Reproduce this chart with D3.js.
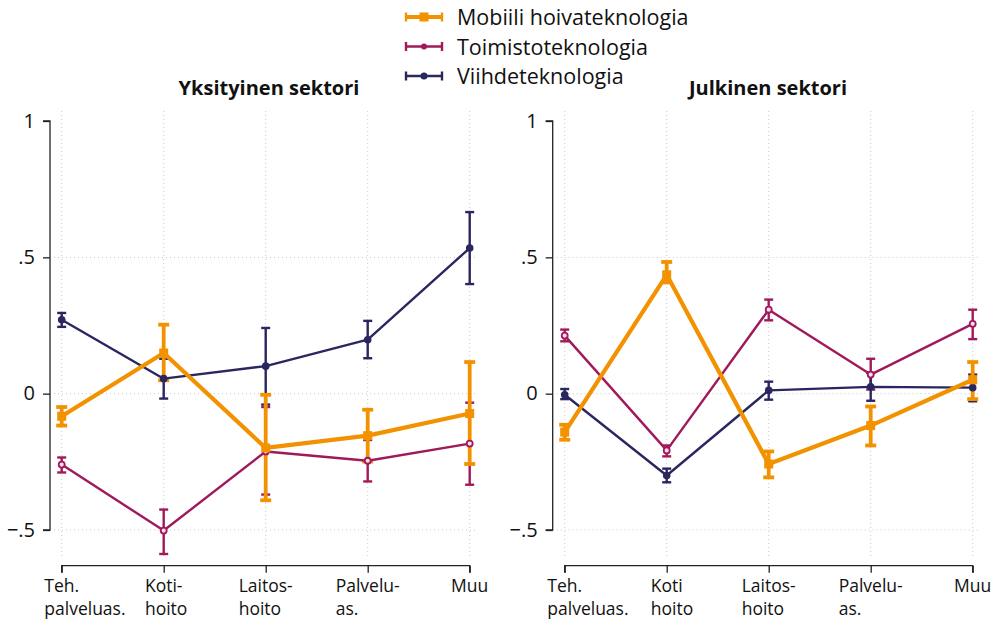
<!DOCTYPE html>
<html><head><meta charset="utf-8">
<script src="https://cdn.jsdelivr.net/npm/d3@7"></script>
<style>body{margin:0;background:#fff}svg{display:block}text{font-family:"Open Sans",sans-serif}</style>
</head><body>
<svg id="c" width="1006" height="619"></svg>
<script>
const categories = ["Teh.|palveluas.", "Koti-|hoito", "Laitos-|hoito", "Palvelu-|as.", "Muu"];
const categoriesRight = ["Teh.|palveluas.", "Koti|hoito", "Laitos-|hoito", "Palvelu-|as.", "Muu"];
const yTicks = [1, 0.5, 0, -0.5];
const yTickLabels = ["1", ".5", "0", "\u2212.5"];
const seriesNames = ["Mobiili hoivateknologia", "Toimistoteknologia", "Viihdeteknologia"];
const panelTitles = ["Yksityinen sektori", "Julkinen sektori"];

// Yksityinen sektori: estimate, lower, upper
const privMobiili   = [-0.083, 0.149, -0.199, -0.154, -0.073];
const privMobiiliLo = [-0.117, 0.049, -0.391, -0.249, -0.258];
const privMobiiliHi = [-0.049, 0.253, -0.004, -0.059, 0.116];
const privToimisto   = [-0.260, -0.502, -0.212, -0.246, -0.183];
const privToimistoLo = [-0.289, -0.588, -0.370, -0.322, -0.334];
const privToimistoHi = [-0.234, -0.425, -0.049, -0.170, -0.033];
const privViihde   = [0.271, 0.055, 0.101, 0.198, 0.534];
const privViihdeLo = [0.245, -0.018, -0.040, 0.130, 0.402];
const privViihdeHi = [0.296, 0.128, 0.241, 0.267, 0.666];

// Julkinen sektori
const pubMobiili   = [-0.141, 0.436, -0.258, -0.117, 0.051];
const pubMobiiliLo = [-0.169, 0.408, -0.307, -0.190, -0.020];
const pubMobiiliHi = [-0.114, 0.483, -0.212, -0.047, 0.116];
const pubToimisto   = [0.213, -0.208, 0.308, 0.070, 0.256];
const pubToimistoLo = [0.192, -0.230, 0.269, 0.015, 0.200];
const pubToimistoHi = [0.235, -0.190, 0.345, 0.128, 0.308];
const pubViihde   = [-0.004, -0.300, 0.012, 0.025, 0.022];
const pubViihdeLo = [-0.020, -0.325, -0.022, -0.026, -0.028];
const pubViihdeHi = [0.017, -0.275, 0.044, 0.076, 0.070];

const colors = {mob: "#f39200", toi: "#a0195a", vii: "#2a2660"};

const svg = d3.select("#c");

function makeSeries(est, lo, hi){ return est.map((v,i)=>({i, v, lo: lo[i], hi: hi[i]})); }

const panels = [
  {title: panelTitles[0], cats: categories, x0: 61.7, x1: 469.7, yAxisX: 50, titleX: 269,
   series: [
     {key:"mob", data: makeSeries(privMobiili, privMobiiliLo, privMobiiliHi)},
     {key:"toi", data: makeSeries(privToimisto, privToimistoLo, privToimistoHi)},
     {key:"vii", data: makeSeries(privViihde, privViihdeLo, privViihdeHi)}]},
  {title: panelTitles[1], cats: categoriesRight, x0: 564.7, x1: 972.7, yAxisX: 552.7, titleX: 768,
   series: [
     {key:"mob", data: makeSeries(pubMobiili, pubMobiiliLo, pubMobiiliHi)},
     {key:"toi", data: makeSeries(pubToimisto, pubToimistoLo, pubToimistoHi)},
     {key:"vii", data: makeSeries(pubViihde, pubViihdeLo, pubViihdeHi)}]}
];

const y = d3.scaleLinear().domain([-0.5, 1]).range([530, 121]);
const style = {
  mob: {lw: 4.2, elw: 3.8, cap: 11},
  toi: {lw: 2.4, elw: 2.4, cap: 9},
  vii: {lw: 2.4, elw: 2.4, cap: 9}
};

panels.forEach(p => {
  const g = svg.append("g");
  const x = d3.scalePoint().domain(d3.range(p.cats.length)).range([p.x0, p.x1]);

  // grid
  g.selectAll(".vg").data(d3.range(p.cats.length)).join("line")
    .attr("x1", d=>x(d)).attr("x2", d=>x(d)).attr("y1", 111).attr("y2", 557)
    .attr("stroke", "#c8c8c8").attr("stroke-width", 1).attr("stroke-dasharray", "1,3");
  g.selectAll(".hg").data(yTicks.filter(t=>t<1)).join("line")
    .attr("x1", p.yAxisX + 4).attr("x2", p.x1 + 8).attr("y1", d=>y(d)).attr("y2", d=>y(d))
    .attr("stroke", "#c8c8c8").attr("stroke-width", 1).attr("stroke-dasharray", "1,3");

  // y axis
  const ya = d3.axisLeft(y).tickValues(yTicks).tickSize(7).tickFormat((d,i)=>yTickLabels[i]).tickPadding(8);
  const yg = g.append("g").attr("transform", `translate(${p.yAxisX},0)`).call(ya);
  yg.select(".domain").attr("d", `M-7,${y(1)}H0V${y(-0.5)}H-7`).attr("stroke", "#222").attr("stroke-width", 1.3);
  yg.selectAll(".tick line").attr("stroke", "#222").attr("stroke-width", 1.3);
  yg.selectAll(".tick text").attr("font-size", 20).attr("fill", "#111").attr("font-family", "Open Sans").attr("dy", "0.3em");

  // x axis
  const xa = d3.axisBottom(x).tickSize(7).tickFormat("");
  const xg = g.append("g").attr("transform", "translate(0,565.7)").call(xa);
  xg.select(".domain").attr("d", `M${p.x0},7V0H${p.x1}V7`).attr("stroke", "#222").attr("stroke-width", 1.3);
  xg.selectAll(".tick line").attr("stroke", "#222").attr("stroke-width", 1.3);
  p.cats.forEach((c, i) => {
    const lines = c.split("|");
    const t1 = g.append("text").attr("font-size", 17.5).attr("fill", "#111").attr("y", 592).text(lines[0]);
    const w = t1.node().getComputedTextLength();
    const sx = x(i) - w/2;
    t1.attr("x", sx);
    if (lines[1]) g.append("text").attr("font-size", 17.5).attr("fill", "#111")
      .attr("x", sx).attr("y", 615).text(lines[1]);
  });

  // title
  g.append("text").attr("x", p.titleX).attr("y", 95).attr("text-anchor", "middle")
    .attr("font-size", 20).attr("font-weight", "bold").attr("fill", "#111").text(p.title);

  // error bars (magenta, navy, then orange on top)
  ["toi", "vii", "mob"].forEach(k => {
    const s = p.series.find(q => q.key === k);
    const st = style[k];
    const eg = g.append("g").attr("stroke", colors[k]).attr("stroke-width", st.elw);
    s.data.forEach(d => {
      const cx = x(d.i);
      eg.append("line").attr("x1", cx).attr("x2", cx).attr("y1", y(d.lo)).attr("y2", y(d.hi));
      eg.append("line").attr("x1", cx - st.cap/2).attr("x2", cx + st.cap/2).attr("y1", y(d.lo)).attr("y2", y(d.lo));
      eg.append("line").attr("x1", cx - st.cap/2).attr("x2", cx + st.cap/2).attr("y1", y(d.hi)).attr("y2", y(d.hi));
    });
  });
  // lines & markers
  ["vii", "toi", "mob"].forEach(k => {
    const s = p.series.find(q => q.key === k);
    const st = style[k];
    const line = d3.line().x(d=>x(d.i)).y(d=>y(d.v));
    g.append("path").datum(s.data).attr("d", line).attr("fill", "none")
      .attr("stroke", colors[k]).attr("stroke-width", st.lw).attr("stroke-linejoin", "round");
    if (k === "mob") {
      g.selectAll(null).data(s.data).join("rect")
        .attr("x", d=>x(d.i)-4.5).attr("y", d=>y(d.v)-4.5).attr("width", 9).attr("height", 9)
        .attr("fill", colors[k]);
    } else if (k === "toi") {
      g.selectAll(null).data(s.data).join("circle")
        .attr("cx", d=>x(d.i)).attr("cy", d=>y(d.v)).attr("r", 3)
        .attr("fill", "#f4dde8").attr("stroke", colors[k]).attr("stroke-width", 1.8);
    } else {
      g.selectAll(null).data(s.data).join("circle")
        .attr("cx", d=>x(d.i)).attr("cy", d=>y(d.v)).attr("r", 3.8).attr("fill", colors[k]);
    }
  });
});

// legend
const lg = svg.append("g");
const keys = ["mob", "toi", "vii"];
keys.forEach((k, i) => {
  const yy = 17 + i * 29.5;
  const st = style[k];
  const gg = lg.append("g").attr("stroke", colors[k]);
  gg.append("line").attr("x1", 406).attr("x2", 442).attr("y1", yy).attr("y2", yy).attr("stroke-width", st.lw);
  gg.append("line").attr("x1", 406).attr("x2", 406).attr("y1", yy-4.5).attr("y2", yy+4.5).attr("stroke-width", 2.4);
  gg.append("line").attr("x1", 442).attr("x2", 442).attr("y1", yy-4.5).attr("y2", yy+4.5).attr("stroke-width", 2.4);
  if (k === "mob") gg.append("rect").attr("x", 419.5).attr("y", yy-4.5).attr("width", 9).attr("height", 9).attr("fill", colors[k]).attr("stroke", "none");
  else if (k === "toi") gg.append("circle").attr("cx", 424).attr("cy", yy).attr("r", 3).attr("fill", colors[k]).attr("stroke", "none");
  else gg.append("circle").attr("cx", 424).attr("cy", yy).attr("r", 3.5).attr("fill", colors[k]).attr("stroke", "none");
  lg.append("text").attr("x", 457).attr("y", yy + 8).attr("font-size", 21.5).attr("fill", "#111").text(seriesNames[i]);
});
</script>
</body></html>
